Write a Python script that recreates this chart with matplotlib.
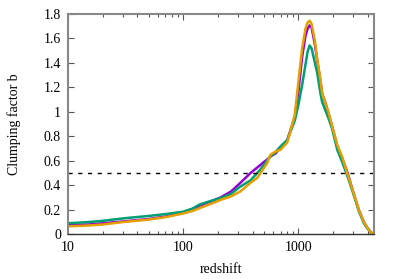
import numpy as np
import matplotlib
matplotlib.use('Agg')
import matplotlib.pyplot as plt
from matplotlib.ticker import FixedLocator, LogLocator, NullFormatter, FormatStrFormatter

# redshift grid and clumping factor for the three runs
redshift = [10, 15, 20, 30, 50, 70, 100, 120, 140, 170, 210, 260, 313, 383, 438, 468,
            500, 534, 571, 631, 697, 800, 930, 1000, 1077, 1150, 1200, 1250, 1300,
            1390, 1455, 1553, 1607, 1718, 1820, 1963, 2172, 2400, 2650, 3000, 3340,
            3700, 3950, 4250, 4500]

clumpPurple = [0.075, 0.08, 0.09, 0.105, 0.125, 0.145, 0.175, 0.20, 0.235, 0.265, 0.30,
               0.35, 0.42, 0.50, 0.545, 0.567, 0.59, 0.61, 0.635, 0.66, 0.71, 0.77,
               0.96, 1.17, 1.45, 1.62, 1.68, 1.707, 1.69, 1.55, 1.42, 1.25, 1.15, 1.07,
               0.99, 0.88, 0.72, 0.62, 0.51, 0.34, 0.20, 0.10, 0.055, 0.017, 0.0]

clumpGreen = [0.09, 0.10, 0.11, 0.13, 0.15, 0.165, 0.185, 0.21, 0.245, 0.27, 0.295,
              0.33, 0.39, 0.44, 0.50, 0.53, 0.567, 0.60, 0.635, 0.67, 0.717, 0.77,
              0.93, 1.06, 1.22, 1.385, 1.49, 1.543, 1.52, 1.40, 1.32, 1.15, 1.08, 1.01,
              0.95, 0.86, 0.69, 0.59, 0.48, 0.33, 0.19, 0.09, 0.05, 0.015, 0.0]

clumpOrange = [0.065, 0.072, 0.08, 0.10, 0.12, 0.14, 0.17, 0.19, 0.215, 0.245, 0.28,
               0.31, 0.35, 0.42, 0.46, 0.50, 0.54, 0.58, 0.65, 0.676, 0.69, 0.75,
               0.976, 1.25, 1.52, 1.68, 1.73, 1.745, 1.72, 1.58, 1.43, 1.26, 1.15, 1.07,
               1.00, 0.88, 0.73, 0.63, 0.50, 0.34, 0.20, 0.10, 0.055, 0.015, 0.0]

threshold = 0.5
yTicks = [0, 0.2, 0.4, 0.6, 0.8, 1.0, 1.2, 1.4, 1.6, 1.8]
xTicks = [10, 100, 1000]

plt.rcParams['font.family'] = ['Liberation Serif', 'DejaVu Serif']
plt.rcParams['font.size'] = 10

fig = plt.figure(figsize=(3.99, 2.79), dpi=100)
ax = fig.add_axes([0.1704, 0.1602, 0.7662, 0.7896])

ax.plot(redshift, clumpPurple, color='#9400D3', lw=1.8)
ax.plot(redshift, clumpGreen, color='#009E73', lw=1.8)
ax.plot(redshift, clumpOrange, color='#E69F00', lw=1.8)
ax.axhline(threshold, color='black', lw=1.0, dashes=(3, 4))

ax.set_xscale('log')
ax.set_xlim(10, 4500)
ax.set_ylim(0, 1.8)

ax.xaxis.set_major_locator(FixedLocator(xTicks))
ax.xaxis.set_major_formatter(FormatStrFormatter('%g'))
ax.xaxis.set_minor_locator(LogLocator(base=10, subs=np.arange(2, 10)))
ax.xaxis.set_minor_formatter(NullFormatter())
ax.yaxis.set_major_locator(FixedLocator(yTicks))
ax.yaxis.set_major_formatter(FormatStrFormatter('%g'))

ax.tick_params(which='both', direction='in', top=True, right=True, pad=5)
ax.tick_params(which='major', length=4, width=0.8, color='#555555')
ax.tick_params(which='minor', length=2, width=0.8, color='#555555')

for side in ['left', 'right', 'top']:
    ax.spines[side].set_color('#888888')
    ax.spines[side].set_linewidth(1.5)
ax.spines['bottom'].set_color('#333333')
ax.spines['bottom'].set_linewidth(1.0)

ax.set_xlabel('redshift', labelpad=6)
ax.set_ylabel('Clumping factor b', labelpad=16)

fig.savefig('out.png', dpi=100)
